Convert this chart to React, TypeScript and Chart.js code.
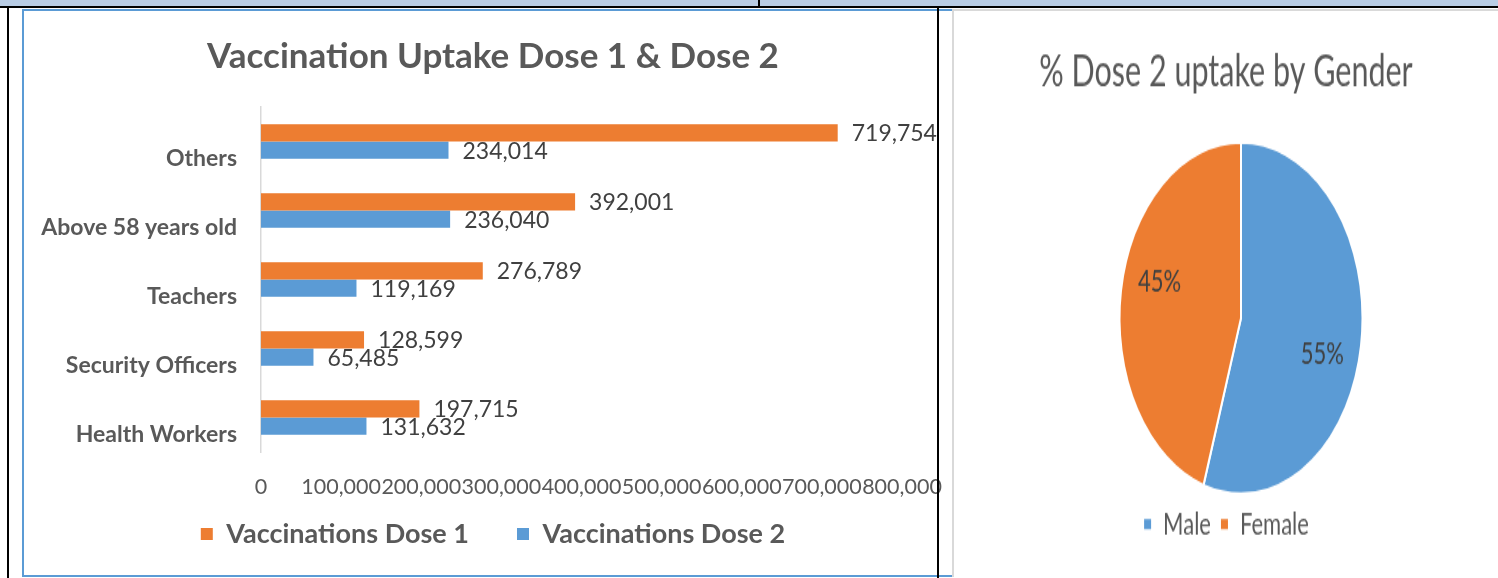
import React, { useEffect, useRef } from "react";
import { Chart, registerables } from "chart.js";

Chart.register(...registerables);

// ---- data ----
const categories = ["Others", "Above 58 years old", "Teachers", "Security Officers", "Health Workers"];
const dose1 = [719754, 392001, 276789, 128599, 197715];
const dose2 = [234014, 236040, 119169, 65485, 131632];
const seriesNames = ["Vaccinations Dose 1", "Vaccinations Dose 2"];
const xMin = 0;
const xMax = 800000;
const xStep = 100000;

const genderLabels = ["Male", "Female"];
const genderShare = [55, 45];

const ORANGE = "#ED7D31";
const BLUE = "#5B9BD5";
const GREY_TEXT = "#595959";
const LABEL_TEXT = "#404040";
const FONT = "Lato";

const fmt = (v: number) => v.toLocaleString("en-US");

const barLabelPlugin = {
  id: "barLabels",
  afterDatasetsDraw(chart: any) {
    const ctx = chart.ctx;
    ctx.save();
    ctx.font = `23px ${FONT}`;
    ctx.fillStyle = LABEL_TEXT;
    ctx.textAlign = "left";
    ctx.textBaseline = "middle";
    chart.data.datasets.forEach((ds: any, i: number) => {
      const meta = chart.getDatasetMeta(i);
      meta.data.forEach((bar: any, j: number) => {
        const { x, y } = bar.getProps(["x", "y"], true);
        ctx.fillText(fmt(ds.data[j]), x + 14, y + 1);
      });
    });
    ctx.restore();
  },
};

const pieLabelPlugin = {
  id: "pieLabels",
  afterDatasetsDraw(chart: any) {
    const ctx = chart.ctx;
    const ds = chart.data.datasets[0];
    const total = ds.data.reduce((a: number, b: number) => a + b, 0);
    ctx.save();
    ctx.font = `22px ${FONT}`;
    ctx.fillStyle = LABEL_TEXT;
    ctx.textAlign = "center";
    ctx.textBaseline = "middle";
    chart.getDatasetMeta(0).data.forEach((arc: any, j: number) => {
      const p = arc.getProps(["x", "y", "startAngle", "endAngle", "outerRadius"], true);
      const mid = (p.startAngle + p.endAngle) / 2 + 0.14;
      const r = p.outerRadius * 0.7;
      const pct = Math.round((ds.data[j] / total) * 100);
      ctx.fillText(`${pct}%`, p.x + Math.cos(mid) * r, p.y + Math.sin(mid) * r);
    });
    ctx.restore();
  },
};

const BAR_W = 928;
const BAR_H = 564;

function BarChart() {
  const ref = useRef<HTMLCanvasElement>(null);
  useEffect(() => {
    if (!ref.current) return;
    const chart = new Chart(ref.current, {
      type: "bar",
      data: {
        labels: categories,
        datasets: [
          { label: seriesNames[0], data: dose1, backgroundColor: ORANGE, categoryPercentage: 0.5, barPercentage: 1 },
          { label: seriesNames[1], data: dose2, backgroundColor: BLUE, categoryPercentage: 0.5, barPercentage: 1 },
        ],
      },
      options: {
        indexAxis: "y",
        responsive: false,
        animation: false,
        layout: { padding: { left: 10, right: 0, top: 0, bottom: 17.5 } },
        scales: {
          x: {
            min: xMin,
            max: xMax,
            grid: { display: false },
            border: { display: false },
            ticks: {
              stepSize: xStep,
              autoSkip: false,
              maxRotation: 0,
              minRotation: 0,
              mirror: true,
              padding: -47.9,
              color: GREY_TEXT,
              font: { family: FONT, size: 21.5 },
              callback: (v: any) => fmt(Number(v)),
            },
            afterFit: (s: any) => {
              s.height = 20.5;
              s.paddingLeft = 0;
              s.paddingRight = 50;
            },
          },
          y: {
            grid: { display: false },
            border: { display: true, color: "#d9d9d9", width: 1.5 },
            ticks: {
              color: GREY_TEXT,
              padding: 16,
              labelOffset: 17,
              font: { family: FONT, size: 23, weight: "bold" },
            },
            afterFit: (s: any) => {
              s.width = 227;
            },
          },
        },
        plugins: {
          title: {
            display: true,
            text: "Vaccination Uptake Dose 1 & Dose 2",
            color: GREY_TEXT,
            font: { family: FONT, size: 35, weight: "bold" },
            padding: { top: 25, bottom: 29 },
          },
          legend: {
            position: "bottom",
            labels: {
              color: GREY_TEXT,
              font: { family: FONT, size: 27, weight: "bold" },
              boxWidth: 12,
              boxHeight: 12,
              padding: 48,
            },
          },
          tooltip: { enabled: false },
        },
      } as any,
      plugins: [barLabelPlugin],
    });
    return () => chart.destroy();
  }, []);
  return <canvas ref={ref} width={BAR_W} height={BAR_H} style={{ display: "block", width: BAR_W, height: BAR_H }} />;
}

const PIE_W = 544;
const PIE_H_REAL = 567;
const PIE_H = 392;

const hiddenSpacer = (fit: (s: any) => void, position: string) => ({
  type: "linear",
  position,
  display: true,
  grid: { display: false },
  border: { display: false },
  ticks: { display: false },
  afterFit: (s: any) => {
    s.paddingLeft = 0;
    s.paddingRight = 0;
    s.paddingTop = 0;
    s.paddingBottom = 0;
    fit(s);
  },
});

function PieChart() {
  const ref = useRef<HTMLCanvasElement>(null);
  useEffect(() => {
    if (!ref.current) return;
    const chart = new Chart(ref.current, {
      type: "pie",
      data: {
        labels: genderLabels,
        datasets: [
          {
            data: genderShare,
            backgroundColor: [BLUE, ORANGE],
            borderColor: "#ffffff",
            borderWidth: 2,
          },
        ],
      },
      options: {
        responsive: false,
        animation: false,
        layout: { padding: { left: 0, right: 0, top: 0, bottom: 16.2 } },
        scales: {
          spacer: hiddenSpacer((s: any) => { s.width = 30; }, "left"),
        },
        plugins: {
          title: {
            display: true,
            text: "% Dose 2 uptake by Gender",
            color: GREY_TEXT,
            font: { family: FONT, size: 30.5, weight: "normal" },
            padding: { top: 23.5, bottom: 29.7 },
          },
          legend: {
            position: "bottom",
            labels: {
              color: GREY_TEXT,
              font: { family: FONT, size: 22 },
              boxWidth: 9,
              boxHeight: 9,
              padding: 9,
            },
          },
          tooltip: { enabled: false },
        },
      } as any,
      plugins: [pieLabelPlugin],
    });
    return () => chart.destroy();
  }, []);
  return (
    <canvas
      ref={ref}
      width={PIE_W}
      height={PIE_H}
      style={{
        display: "block",
        width: PIE_W,
        height: PIE_H,
        transform: `scaleY(${PIE_H_REAL / PIE_H})`,
        transformOrigin: "0 0",
      }}
    />
  );
}

const abs = (left: number, top: number, width: number, height: number, bg: string): React.CSSProperties => ({
  position: "absolute",
  left,
  top,
  width,
  height,
  background: bg,
});

export default function App() {
  return (
    <div style={{ position: "absolute", left: 0, top: 0, width: 1498, height: 578, background: "#ffffff", overflow: "hidden" }}>
      {/* table header band and borders */}
      <div style={abs(0, 0, 1498, 6, "#b8cce4")} />
      <div style={abs(0, 6, 1498, 2, "#000000")} />
      <div style={abs(758, 0, 2, 6, "#000000")} />
      <div style={abs(7, 8, 2, 570, "#000000")} />
      <div style={abs(22, 9, 930, 2, BLUE)} />
      <div style={abs(952, 9, 546, 2, "#d9d9d9")} />
      <div style={abs(22, 9, 2, 568, BLUE)} />
      <div style={abs(22, 575, 930, 2, BLUE)} />
      {/* left chart */}
      <div style={{ position: "absolute", left: 24, top: 11, width: BAR_W, height: BAR_H, overflow: "hidden" }}>
        <BarChart />
      </div>
      <div style={abs(937, 8, 2, 570, "#000000")} />
      <div style={abs(952, 9, 2, 568, "#d9d9d9")} />
      {/* right chart */}
      <div style={{ position: "absolute", left: 954, top: 11, width: PIE_W, height: PIE_H_REAL, overflow: "hidden" }}>
        <PieChart />
      </div>
    </div>
  );
}
